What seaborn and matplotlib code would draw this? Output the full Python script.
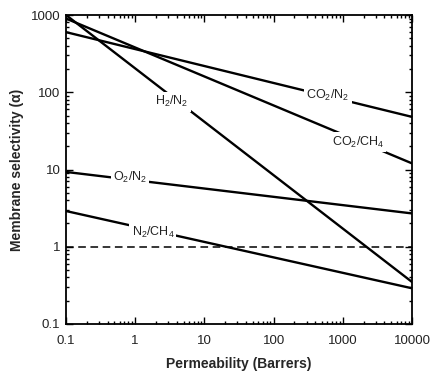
import matplotlib
matplotlib.use("Agg")
import matplotlib.pyplot as plt
import numpy as np
import pandas as pd
import seaborn as sns
from matplotlib.ticker import LogLocator, NullFormatter, FixedLocator

sns.set_style("ticks")
plt.rcParams["font.family"] = ["Liberation Sans", "DejaVu Sans"]
plt.rcParams["mathtext.fontset"] = "custom"
plt.rcParams["mathtext.rm"] = "Liberation Sans"
plt.rcParams["mathtext.it"] = "Liberation Sans:italic"

# endpoints of each trade-off line (permeability in Barrers, selectivity)
permeability = [0.1, 10000]
co2_n2 = [600, 48]
co2_ch4 = [900, 12]
h2_n2 = [1000, 0.35]
o2_n2 = [9.3, 2.7]
n2_ch4 = [2.9, 0.29]

series_names = ["CO2/N2", "CO2/CH4", "H2/N2", "O2/N2", "N2/CH4"]
series_values = [co2_n2, co2_ch4, h2_n2, o2_n2, n2_ch4]
series_labels = [r"CO$_2$/N$_2$", r"CO$_2$/CH$_4$", r"H$_2$/N$_2$", r"O$_2$/N$_2$", r"N$_2$/CH$_4$"]
label_x = [611, 1660, 3.4, 0.84, 1.8]
label_y = [92, 22.7, 75, 7.8, 1.55]

x_ticks = [0.1, 1, 10, 100, 1000, 10000]
x_tick_labels = ["0.1", "1", "10", "100", "1000", "10000"]
y_ticks = [0.1, 1, 10, 100, 1000]
y_tick_labels = ["0.1", "1", "10", "100", "1000"]

df = pd.DataFrame(
    [{"pair": name, "permeability": p, "selectivity": s}
     for name, vals in zip(series_names, series_values)
     for p, s in zip(permeability, vals)]
)

fig = plt.figure(figsize=(4.3, 3.72), dpi=100)
ax = fig.add_axes([66 / 430, 1 - 324 / 372, 346 / 430, 309 / 372])

sns.lineplot(
    data=df, x="permeability", y="selectivity", hue="pair", units="pair",
    estimator=None, palette=["black"] * len(series_names), linewidth=1.7,
    legend=False, ax=ax,
)
ax.axhline(1, color="black", linestyle=(0, (5, 3)), linewidth=1.1, zorder=1)

for lab, lx, ly in zip(series_labels, label_x, label_y):
    ax.text(lx, ly, lab, fontsize=9, ha="center", va="center", color="#222222",
            bbox=dict(facecolor="white", edgecolor="none", pad=1.5), zorder=5)

ax.set_xscale("log")
ax.set_yscale("log")
ax.set_xlim(0.1, 10000)
ax.set_ylim(0.1, 1000)
ax.xaxis.set_major_locator(FixedLocator(x_ticks))
ax.set_xticklabels(x_tick_labels)
ax.yaxis.set_major_locator(FixedLocator(y_ticks))
ax.set_yticklabels(y_tick_labels)
for axis in (ax.xaxis, ax.yaxis):
    axis.set_minor_locator(LogLocator(base=10, subs=np.arange(2, 10), numticks=20))
    axis.set_minor_formatter(NullFormatter())

ax.tick_params(which="both", direction="in", top=True, right=True, width=1.0,
               labelsize=9.5, colors="black", pad=4)
ax.tick_params(axis="x", which="major", pad=8)
ax.tick_params(which="major", length=5)
ax.tick_params(which="minor", length=2.5)
for lbl in ax.get_xticklabels() + ax.get_yticklabels():
    lbl.set_color("#222222")
for sp in ax.spines.values():
    sp.set_visible(True)
    sp.set_linewidth(1.3)
    sp.set_color("black")

ax.set_xlabel("Permeability (Barrers)", fontsize=10, fontweight="bold", labelpad=7)
ax.set_ylabel("Membrane selectivity (\u03b1)", fontsize=10, fontweight="bold", labelpad=5)

fig.savefig("out.png", dpi=100)
